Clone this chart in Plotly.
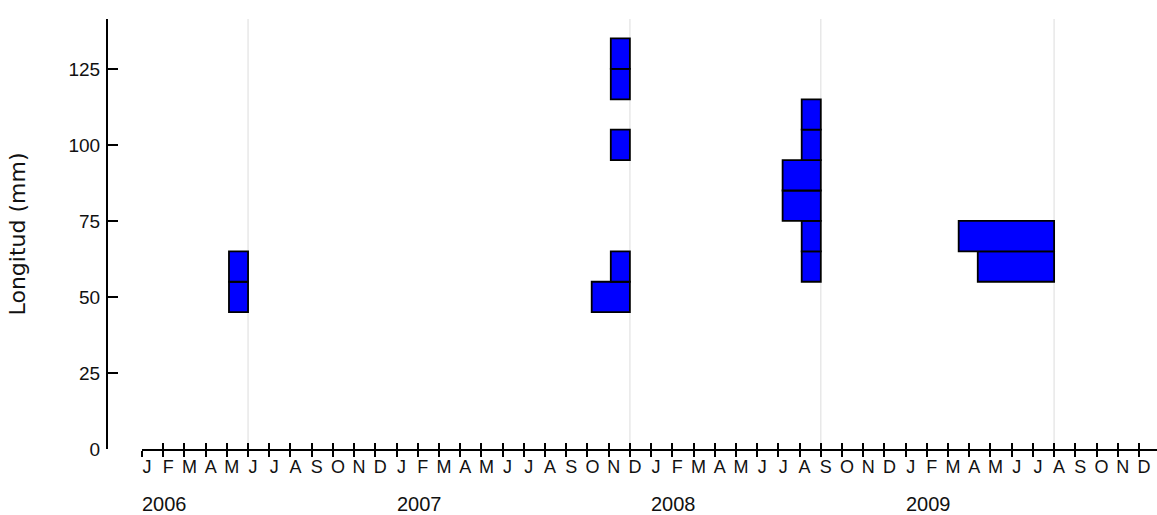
import plotly.graph_objects as go

# ---------------- data ----------------
month_labels = list("JFMAMJJASOND") * 4          # Jan 2006 .. Dec 2009
month_index = list(range(48))                      # 0 = Jan 2006
years = ["2006", "2007", "2008", "2009"]
year_start = [0, 12, 24, 36]

sample_month = [5, 23, 32, 43]                     # Jun 2006, Dec 2007, Sep 2008, Aug 2009

s1_len = [50, 60]
s1_n = [1, 1]
s2_len = [50, 60, 100, 120, 130]
s2_n = [2, 1, 1, 1, 1]
s3_len = [60, 70, 80, 90, 100, 110]
s3_n = [1, 1, 2, 2, 1, 1]
s4_len = [60, 70]
s4_n = [4, 5]

y_ticks = [0, 25, 50, 75, 100, 125]

# ---------------- build ----------------
UNIT = 0.9     # months of axis per individual
BIN = 10       # mm per length class

ys, xs, bases = [], [], []
for m, lens, ns in zip(sample_month, [s1_len, s2_len, s3_len, s4_len], [s1_n, s2_n, s3_n, s4_n]):
    for L, n in zip(lens, ns):
        ys.append(L)
        xs.append(n * UNIT)
        bases.append(m - n * UNIT)

FONT = "Liberation Sans, Arial, sans-serif"
TXT = "#111111"

fig = go.Figure()
fig.add_trace(go.Bar(
    y=ys, x=xs, base=bases, orientation="h", width=BIN,
    marker=dict(color="#0000FF", line=dict(color="#000000", width=1.8)),
    hoverinfo="skip", showlegend=False,
))

for m in sample_month:
    fig.add_shape(type="line", xref="x", yref="paper", x0=m, x1=m, y0=0, y1=1,
                  line=dict(color="#e8e8e8", width=1.5), layer="below")

for yr, m in zip(years, year_start):
    fig.add_annotation(x=m, y=-0.128, xref="x", yref="paper", text=yr, showarrow=False,
                       xanchor="left", yanchor="middle", xshift=-2,
                       font=dict(family=FONT, size=20, color=TXT))

W, H = 1157, 515
ML, MR, MT, MB = 107, 0, 19, 66
plot_w = W - ML - MR
x_start = (142 - ML) / plot_w
X_MAX = 47.85

fig.update_layout(
    width=W, height=H,
    margin=dict(l=ML, r=MR, t=MT, b=MB, pad=0),
    paper_bgcolor="white", plot_bgcolor="white",
    barmode="overlay",
    xaxis=dict(
        domain=[x_start, 1], range=[0, X_MAX], anchor="y",
        tickmode="array", tickvals=month_index, ticktext=month_labels,
        ticks="outside", ticklen=6, tickwidth=2, tickcolor="black",
        showline=True, linecolor="black", linewidth=2,
        showgrid=False, zeroline=False, automargin=False,
        tickfont=dict(family=FONT, size=18, color=TXT),
        ticklabelshift=5, ticklabelstandoff=-6,
    ),
    xaxis2=dict(
        domain=[x_start, 1], range=[0, X_MAX], anchor="y", overlaying="x",
        tickmode="array", tickvals=month_index,
        ticks="inside", ticklen=6, tickwidth=2, tickcolor="black",
        showticklabels=False, showline=False, showgrid=False, zeroline=False,
        automargin=False,
    ),
    yaxis=dict(
        range=[0, 141.4], anchor="free", position=0,
        tickmode="array", tickvals=y_ticks,
        ticks="inside", ticklen=10, tickwidth=2, tickcolor="black",
        showline=True, linecolor="black", linewidth=2,
        showgrid=False, zeroline=False, automargin=False,
        tickfont=dict(family=FONT, size=19, color=TXT),
        ticklabelstandoff=2,
        title=dict(text="Longitud (mm)", standoff=36,
                   font=dict(family="DejaVu Sans, sans-serif", size=22, color=TXT)),
    ),
)
# dummy trace on xaxis2 so it is drawn
fig.add_trace(go.Scatter(x=[None], y=[None], xaxis="x2", yaxis="y", showlegend=False, hoverinfo="skip"))

fig.write_html("out.html",
               config={"displayModeBar": False},
               post_script="document.body.style.margin='0';document.body.style.padding='0';document.body.style.overflow='hidden';")
